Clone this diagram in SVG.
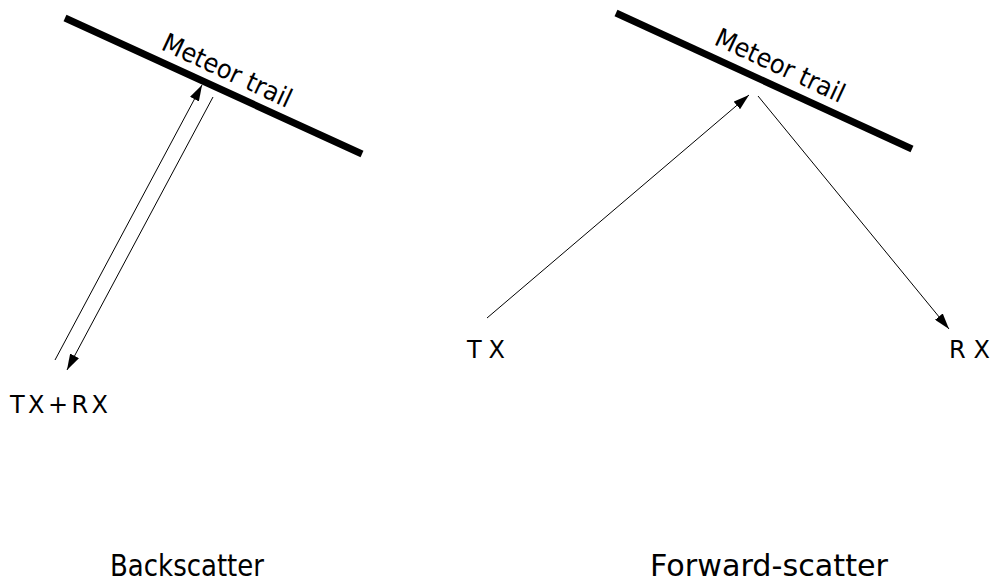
<svg xmlns="http://www.w3.org/2000/svg" width="993" height="584" viewBox="0 0 993 584">
<defs>
<marker id="ah" viewBox="0 0 16 10" refX="16" refY="5" markerWidth="16" markerHeight="10" markerUnits="userSpaceOnUse" orient="auto">
<path d="M0,0 L16,5 L0,10 Z" fill="#000"/>
</marker>
<style>
.trail{stroke:#000;stroke-width:7;fill:none}
.ray{stroke:#000;stroke-width:1;fill:none}
.lbl{font-family:"DejaVu Sans",sans-serif;fill:#000}
</style>
</defs>
<rect width="993" height="584" fill="#fff"/>
<g id="trail-left">
<line class="trail" x1="65" y1="18" x2="362" y2="154"/>
<text class="lbl" font-size="26" transform="translate(160,49) rotate(25)" textLength="140" lengthAdjust="spacingAndGlyphs">Meteor trail</text>
</g>
<g id="trail-right">
<line class="trail" x1="616" y1="13" x2="912" y2="149"/>
<text class="lbl" font-size="26" transform="translate(713,44) rotate(25)" textLength="140" lengthAdjust="spacingAndGlyphs">Meteor trail</text>
</g>
<g id="txrx"><text class="lbl" x="10" y="413" font-size="24" textLength="98" lengthAdjust="spacing">TX+RX</text></g>
<g id="tx"><text class="lbl" x="467" y="358" font-size="24" textLength="38" lengthAdjust="spacing">TX</text></g>
<g id="rx"><text class="lbl" x="949" y="358" font-size="24" textLength="41" lengthAdjust="spacing">RX</text></g>
<g id="backscatter"><text class="lbl" x="110" y="576" font-size="31" textLength="154" lengthAdjust="spacingAndGlyphs">Backscatter</text></g>
<g id="forward-scatter"><text class="lbl" x="650" y="576" font-size="31" textLength="238" lengthAdjust="spacingAndGlyphs">Forward-scatter</text></g>
<g id="connectors">
<line class="ray" x1="55" y1="360" x2="202" y2="85" marker-end="url(#ah)"/>
<line class="ray" x1="213" y1="97" x2="67" y2="370" marker-end="url(#ah)"/>
<line class="ray" x1="487" y1="318" x2="749" y2="95" marker-end="url(#ah)"/>
<line class="ray" x1="758" y1="96" x2="949" y2="329" marker-end="url(#ah)"/>
</g>
</svg>
